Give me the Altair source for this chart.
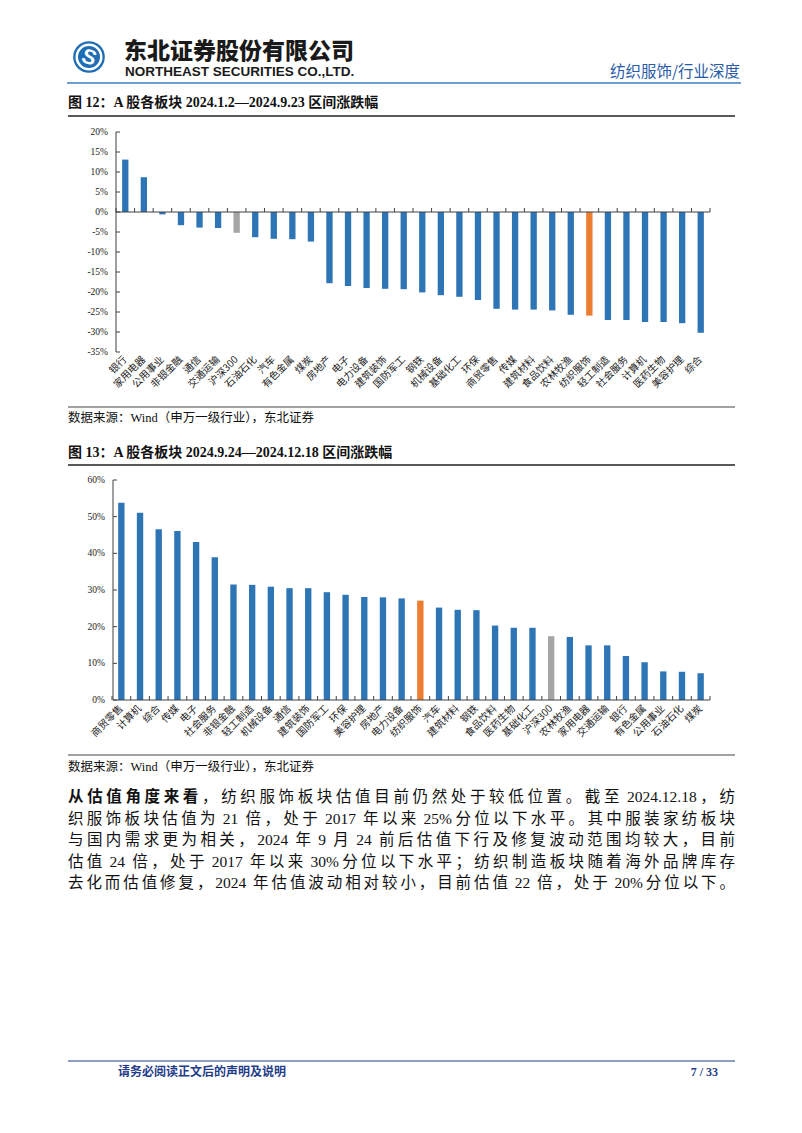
import altair as alt
import pandas as pd

OFF = 8  # page margin

# ---------------- data ----------------
cats1 = ["银行", "家用电器", "公用事业", "非银金融", "通信", "交通运输", "沪深300", "石油石化",
         "汽车", "有色金属", "煤炭", "房地产", "电子", "电力设备", "建筑装饰", "国防军工",
         "钢铁", "机械设备", "基础化工", "环保", "商贸零售", "传媒", "建筑材料", "食品饮料",
         "农林牧渔", "纺织服饰", "轻工制造", "社会服务", "计算机", "医药生物", "美容护理", "综合"]
vals1 = [13.1, 8.7, -0.6, -3.3, -3.9, -4.0, -5.2, -6.3,
         -6.7, -6.8, -7.4, -17.8, -18.5, -19.0, -19.2, -19.3,
         -20.1, -20.8, -21.2, -22.0, -24.2, -24.4, -24.4, -24.6,
         -25.7, -25.9, -27.0, -27.0, -27.5, -27.5, -27.8, -30.2]
ticks1 = [20, 15, 10, 5, 0, -5, -10, -15, -20, -25, -30, -35]

cats2 = ["商贸零售", "计算机", "综合", "传媒", "电子", "社会服务", "非银金融", "轻工制造",
         "机械设备", "通信", "建筑装饰", "国防军工", "环保", "美容护理", "房地产", "电力设备",
         "纺织服饰", "汽车", "建筑材料", "钢铁", "食品饮料", "医药生物", "基础化工", "沪深300",
         "农林牧渔", "家用电器", "交通运输", "银行", "有色金属", "公用事业", "石油石化", "煤炭"]
vals2 = [53.8, 51.1, 46.6, 46.1, 43.1, 38.9, 31.5, 31.4,
         30.9, 30.5, 30.5, 29.4, 28.7, 28.1, 28.0, 27.7,
         27.1, 25.2, 24.6, 24.5, 20.3, 19.7, 19.7, 17.4,
         17.2, 14.9, 14.9, 12.0, 10.3, 7.8, 7.7, 7.3]
ticks2 = [60, 50, 40, 30, 20, 10, 0]

title1 = "图 12：A 股各板块 2024.1.2—2024.9.23 区间涨跌幅"
title2 = "图 13：A 股各板块 2024.9.24—2024.12.18 区间涨跌幅"
source = "数据来源：Wind（申万一级行业），东北证券"
para_bold = "从估值角度来看"
para_lines = [
    "，纺织服饰板块估值目前仍然处于较低位置。截至 2024.12.18，纺",
    "织服饰板块估值为 21 倍，处于 2017 年以来 25%分位以下水平。其中服装家纺板块",
    "与国内需求更为相关，2024 年 9 月 24 前后估值下行及修复波动范围均较大，目前",
    "估值 24 倍，处于 2017 年以来 30%分位以下水平；纺织制造板块随着海外品牌库存",
    "去化而估值修复，2024 年估值波动相对较小，目前估值 22 倍，处于 20%分位以下。",
]
company_cn = "东北证券股份有限公司"
company_en = "NORTHEAST SECURITIES CO.,LTD."
header_right = "纺织服饰/行业深度"
footer_left = "请务必阅读正文后的声明及说明"
footer_right = "7 / 33"

# ---------------- styles ----------------
BLUE = "#2E75B6"
ORANGE = "#ED7D31"
GRAY = "#A5A5A5"
AXC = "#404040"
SERIF_CJK = "'Liberation Serif', 'Noto Sans CJK SC', serif"
CJK = "'Noto Sans CJK SC', sans-serif"
ONE = pd.DataFrame({"a": [0]})


def T(s, x, y, size=12, weight="normal", color="#111", align="left", font=SERIF_CJK, angle=None):
    kw = dict(text=s, fontSize=size, fontWeight=weight, color=color, align=align,
              baseline="middle", font=font)
    if angle is not None:
        kw["angle"] = angle
    return alt.Chart(ONE).mark_text(**kw).encode(x=alt.value(x - OFF), y=alt.value(y - OFF))


def L(x1, x2, y, color="#000", w=1.0):
    return alt.Chart(ONE).mark_rule(color=color, strokeWidth=w).encode(
        x=alt.value(x1 - OFF), x2=alt.value(x2 - OFF), y=alt.value(y - OFF))


def panel(cats, vals, ticks, x0, x1, ytop, ybot, axis_x, label_y):
    n = len(cats)
    step = (x1 - x0) / n
    dmin, dmax = ticks[-1], ticks[0]
    zy = ybot - (0 - dmin) / (dmax - dmin) * (ybot - ytop)
    grp = ["hs" if c == "沪深300" else ("tx" if c == "纺织服饰" else "n") for c in cats]
    df = pd.DataFrame({"cat": cats, "v": vals, "g": grp})
    xs = alt.Scale(domain=cats, range=[x0 - OFF, x1 - OFF], paddingInner=0.66, paddingOuter=0.33)
    ys = alt.Scale(domain=[dmin, dmax], range=[ybot - OFF, ytop - OFF], nice=False, zero=False)
    X = alt.X("cat:N", scale=xs, axis=None, sort=None)
    base = alt.Chart(df)
    bars = base.mark_bar().encode(
        x=X,
        y=alt.Y("v:Q", scale=ys, axis=None),
        y2=alt.datum(0),
        color=alt.Color("g:N", scale=alt.Scale(domain=["n", "hs", "tx"], range=[BLUE, GRAY, ORANGE]),
                        legend=None),
    )
    xlabels = base.mark_text(angle=315, align="right", baseline="middle", font=CJK,
                             fontSize=10, color="#222").encode(
        x=X, y=alt.value(label_y - OFF), text="cat:N")
    xticks = base.mark_rule(xOffset=-step / 2, color=AXC, strokeWidth=1).encode(
        x=X, y=alt.value(zy - OFF - 4), y2=alt.value(zy - OFF))
    xtick_end = L(x1, x1, zy, AXC).encode(y=alt.value(zy - OFF - 4), y2=alt.value(zy - OFF))
    tdf = alt.Chart(pd.DataFrame({"t": ticks})).transform_calculate(lab="datum.t + '%'")
    ylabels = tdf.mark_text(align="right", baseline="middle", font="'Liberation Serif', serif",
                            fontSize=9.5, color="#222").encode(
        x=alt.value(axis_x - 8 - OFF), y=alt.Y("t:Q", scale=ys, axis=None), text="lab:N")
    yticks = tdf.mark_rule(color=AXC).encode(
        x=alt.value(axis_x - OFF), x2=alt.value(axis_x + 4 - OFF), y=alt.Y("t:Q", scale=ys, axis=None))
    yaxis = alt.Chart(ONE).mark_rule(color=AXC, strokeWidth=1).encode(
        x=alt.value(axis_x - OFF), y=alt.value(ytop - OFF), y2=alt.value(ybot - OFF))
    xaxis = L(axis_x, x1, zy, AXC, 1)
    return [bars, xticks, xtick_end, xaxis, yaxis, yticks, ylabels, xlabels]


# ---- justified paragraph layout (CJK style: spread across every character) ----
LATIN_W = {".": 0.25, ",": 0.25, "%": 0.833, " ": 0.25}


def layout_line(segments, x0, x1, y, size):
    toks = []  # [text, width, bold, space_before]
    pending_space = 0.0
    for text, bold in segments:
        buf = ""

        def flush():
            nonlocal buf, pending_space
            if buf:
                w = sum(LATIN_W.get(c, 0.5) for c in buf) * size
                toks.append([buf, w, bold, pending_space])
                pending_space = 0.0
                buf = ""
        for ch in text:
            if ch == " ":
                flush()
                pending_space += 0.25 * size
            elif ord(ch) < 128:
                buf += ch
            else:
                flush()
                toks.append([ch, float(size), bold, pending_space])
                pending_space = 0.0
        flush()
    natural = sum(t[1] + t[3] for t in toks)
    gap = (x1 - x0 - natural) / max(1, len(toks) - 1)
    rows = []
    cx = x0
    for i, (s, w, b, sp) in enumerate(toks):
        cx += sp
        rows.append({"t": s, "x": cx - OFF, "y": y - OFF, "b": b})
        cx += w + gap
    return rows


PSIZE = 15.5
prows = []
prows += layout_line([(para_bold, True), (para_lines[0], False)], 68, 735, 797, PSIZE)
for i, ln in enumerate(para_lines[1:]):
    prows += layout_line([(ln, False)], 68, 735, 818.5 + 21.5 * i, PSIZE)
pdf = pd.DataFrame(prows)

layers = []

# header
layers.append(alt.Chart(ONE).mark_point(shape="circle", filled=True, color="#1f6db5", size=1000, opacity=1)
              .encode(x=alt.value(89 - OFF), y=alt.value(57 - OFF)))
layers.append(alt.Chart(ONE).mark_point(shape="circle", filled=False, color="white", size=600,
                                        strokeWidth=2.5, opacity=1)
              .encode(x=alt.value(89 - OFF), y=alt.value(57 - OFF)))
layers.append(T("S", 89, 58, size=21, weight="bold", color="white", align="center",
                font="'Liberation Sans', sans-serif", angle=20))
layers.append(T(company_cn, 124, 52, size=23, weight=900, color="#1a1a1a", font=CJK))
layers.append(T(company_en, 125, 72, size=13.5, weight="bold", color="#1a1a1a",
                font="'Liberation Sans', sans-serif"))
layers.append(T(header_right, 740, 72, size=15.5, color="#2a5ba6", align="right", font=CJK))
layers.append(L(67, 741, 83, "#3d7fc6", 1.5))

# figure 12
layers.append(T(title1, 68, 103, size=14, weight="bold"))
layers.append(L(68, 735, 116, "#222", 1.5))
layers += panel(cats1, vals1, ticks1, 116, 710, 132, 352, 116, 358)
layers.append(L(68, 735, 407, "#444", 1.2))
layers.append(T(source, 68, 418, size=12.5))

# figure 13
layers.append(T(title2, 68, 453, size=14, weight="bold"))
layers.append(L(68, 735, 465, "#222", 1.5))
layers += panel(cats2, vals2, ticks2, 112, 710, 480, 700, 113, 707)
layers.append(L(68, 735, 755, "#444", 1.2))
layers.append(T(source, 68, 767, size=12.5))

# paragraph
for bold in (True, False):
    layers.append(
        alt.Chart(pdf[pdf["b"] == bold]).mark_text(
            align="left", baseline="middle", font=SERIF_CJK, fontSize=PSIZE,
            fontWeight="bold" if bold else "normal", color="#111").encode(
            x=alt.X("x:Q", scale=None, axis=None), y=alt.Y("y:Q", scale=None, axis=None), text="t:N")
    )

# footer
layers.append(L(68, 735, 1061, "#1f3c88", 1))
layers.append(T(footer_left, 118, 1072, size=12, weight="bold", color="#1f3c88"))
layers.append(T(footer_right, 718, 1072, size=12, weight="bold", color="#1f3c88", align="right"))

chart = alt.layer(*layers).resolve_scale(
    x="independent", y="independent", color="independent"
).properties(
    width=786, height=1117, autosize=alt.AutoSizeParams(type="none"), padding=0,
    background="white",
).configure_view(stroke=None)

chart.save("out.html", embed_options={"renderer": "svg", "actions": False})
